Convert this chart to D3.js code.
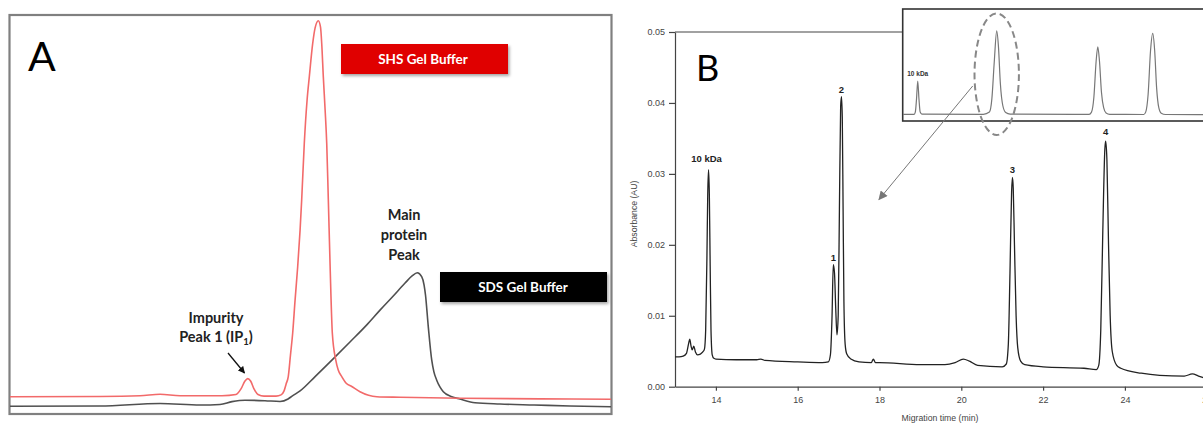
<!DOCTYPE html>
<html>
<head>
<meta charset="utf-8">
<script src="https://cdn.jsdelivr.net/npm/d3@7/dist/d3.min.js"></script>
<style>
  html, body { margin: 0; padding: 0; background: #fff; }
  svg { display: block; }
</style>
</head>
<body>
<svg id="chart" width="1203" height="426"></svg>
<script>
// ---------------- Panel A data (time in min, signal in mAU) ----------------
const shsTime = [0, 4.49, 6.49, 7.49, 8.49, 10.58, 11.28, 11.53, 11.73, 11.87, 12.01, 12.18, 12.38, 12.68, 13.28, 13.53, 13.68, 13.78, 13.89, 14.0, 14.11, 14.23, 14.36, 14.48, 14.56, 14.69, 14.83, 14.94, 15.11, 15.23, 15.39, 15.50, 15.56, 15.64, 15.73, 15.81, 15.89, 15.98, 16.09, 16.26, 16.38, 16.56, 16.77, 17.06, 17.47, 18.31, 19.47, 22.47, 26.46, 30];
const shsSignal = [4.35, 4.4, 4.57, 4.95, 4.57, 4.6, 4.9, 6.3, 8.3, 8.9, 8.3, 6.3, 4.9, 4.5, 4.5, 4.8, 5.8, 7.5, 9.4, 14.8, 20.3, 28.6, 37.0, 46.2, 53.8, 68.0, 78.9, 84.7, 93.1, 97.0, 98.8, 97.2, 93.1, 84.7, 76.4, 68.0, 53.8, 37.0, 20.3, 13.6, 11.1, 9.4, 7.8, 6.9, 5.6, 4.35, 4.2, 3.94, 3.8, 3.7];

const sdsTime = [0, 4.49, 7.49, 9.49, 10.48, 11.08, 11.73, 12.73, 13.48, 13.88, 14.08, 14.48, 15.23, 16.18, 16.97, 17.81, 18.47, 19.12, 19.72, 20.07, 20.33, 20.55, 20.67, 20.74, 20.88, 21.05, 21.16, 21.30, 21.46, 21.63, 22.05, 22.46, 23.21, 24.46, 26.16, 27.95, 30];
const sdsSignal = [1.96, 2.0, 2.64, 2.26, 2.39, 3.1, 3.47, 3.34, 3.14, 3.77, 4.5, 5.8, 9.4, 14.1, 18.1, 22.4, 26.1, 29.6, 32.9, 34.7, 35.5, 34.5, 32.4, 29.9, 21.9, 13.6, 10.6, 8.5, 6.8, 5.6, 4.35, 3.77, 2.84, 2.51, 2.26, 2.0, 1.83];

const legendA = ["SHS Gel Buffer", "SDS Gel Buffer"];
const annotMain = ["Main", "protein", "Peak"];
const annotImpurity = ["Impurity", "Peak 1 (IP", "1", ")"];

// ---------------- Panel B data (migration time in min, absorbance in AU) ----------------
const migTime = [13.00, 13.10, 13.20, 13.28, 13.33, 13.36, 13.39, 13.42, 13.46, 13.50, 13.55, 13.62, 13.68, 13.72, 13.75, 13.78, 13.80, 13.82, 13.84, 13.86, 13.88, 13.91, 13.95, 14.00, 14.50, 15.00, 15.10, 15.20, 16.00, 16.60, 16.75, 16.80, 16.84, 16.87, 16.90, 16.93, 16.96, 16.99, 17.02, 17.05, 17.07, 17.09, 17.11, 17.13, 17.16, 17.20, 17.30, 17.50, 17.80, 17.85, 17.90, 18.00, 19.00, 19.60, 19.85, 20.05, 20.20, 20.40, 21.00, 21.10, 21.15, 21.19, 21.23, 21.25, 21.27, 21.30, 21.34, 21.38, 21.45, 21.55, 22.00, 23.00, 23.30, 23.36, 23.41, 23.46, 23.51, 23.53, 23.56, 23.60, 23.64, 23.69, 23.80, 23.90, 24.40, 24.85, 25.45, 25.65, 25.80, 26.00];
const absorbance = [0.0042, 0.0042, 0.0043, 0.0047, 0.0060, 0.0067, 0.0058, 0.0052, 0.0057, 0.0049, 0.0045, 0.0046, 0.0049, 0.0053, 0.0080, 0.0180, 0.0270, 0.0306, 0.0270, 0.0170, 0.0080, 0.0045, 0.0040, 0.0039, 0.0038, 0.0038, 0.0039, 0.0037, 0.0035, 0.0034, 0.0035, 0.0045, 0.0100, 0.0172, 0.0160, 0.0110, 0.0073, 0.0100, 0.0250, 0.0395, 0.0409, 0.0380, 0.0250, 0.0120, 0.0060, 0.0046, 0.0039, 0.0035, 0.0034, 0.0039, 0.0034, 0.0034, 0.0031, 0.0031, 0.0034, 0.0039, 0.0036, 0.0030, 0.0028, 0.0032, 0.0060, 0.0160, 0.0275, 0.0295, 0.0280, 0.0200, 0.0100, 0.0055, 0.0036, 0.0031, 0.0028, 0.0026, 0.0024, 0.0030, 0.0080, 0.0220, 0.0335, 0.0346, 0.0320, 0.0200, 0.0100, 0.0050, 0.0030, 0.0026, 0.0019, 0.0016, 0.0015, 0.0018, 0.0015, 0.0011];

const insetTime = [13.00, 13.65, 13.70, 13.75, 13.80, 13.85, 13.90, 13.97, 16.50, 16.75, 16.85, 16.95, 17.05, 17.12, 17.20, 17.30, 17.42, 17.60, 20.85, 20.95, 21.05, 21.14, 21.21, 21.28, 21.36, 21.45, 21.55, 21.70, 23.10, 23.18, 23.28, 23.38, 23.47, 23.55, 23.63, 23.72, 23.82, 24.00, 26.30];
const insetAbs = [0.0010, 0.0010, 0.0020, 0.0080, 0.0161, 0.0080, 0.0020, 0.0011, 0.0010, 0.0020, 0.0080, 0.0250, 0.0389, 0.0320, 0.0150, 0.0050, 0.0018, 0.0011, 0.0010, 0.0020, 0.0090, 0.0250, 0.0317, 0.0250, 0.0110, 0.0040, 0.0016, 0.0010, 0.0009, 0.0020, 0.0100, 0.0300, 0.0378, 0.0300, 0.0130, 0.0040, 0.0015, 0.0009, 0.0008];

const xTicksB = [14, 16, 18, 20, 22, 24, 26];
const yTicksB = [0.00, 0.01, 0.02, 0.03, 0.04, 0.05];
const peakLabels = ["10 kDa", "1", "2", "3", "4"];
const peakLabelTimes = [13.82, 16.87, 17.07, 21.25, 23.53];
const peakLabelValues = [0.0306, 0.0172, 0.0409, 0.0295, 0.0346];

// ---------------- drawing ----------------
const svg = d3.select("#chart");
const defs = svg.append("defs");
const shadow = defs.append("filter").attr("id", "shadow").attr("x", "-10%").attr("y", "-20%").attr("width", "130%").attr("height", "160%");
shadow.append("feDropShadow").attr("dx", 1.5).attr("dy", 2).attr("stdDeviation", 1.5).attr("flood-color", "#000").attr("flood-opacity", 0.35);

// ===== Panel A =====
const xA = d3.scaleLinear().domain([0, 30]).range([10, 611]);
const yA = d3.scaleLinear().domain([0, 100]).range([414, 16]);
const gA = svg.append("g");

gA.append("rect").attr("x", 9.5).attr("y", 15).attr("width", 602).attr("height", 399)
  .attr("fill", "none").attr("stroke", "#808080").attr("stroke-width", 2.2);

const lineA = d3.line().x(d => xA(d[0])).y(d => yA(d[1])).curve(d3.curveMonotoneX);
gA.append("path").datum(d3.zip(sdsTime, sdsSignal)).attr("d", lineA)
  .attr("fill", "none").attr("stroke", "#505050").attr("stroke-width", 1.6);
gA.append("path").datum(d3.zip(shsTime, shsSignal)).attr("d", lineA)
  .attr("fill", "none").attr("stroke", "#f26a6a").attr("stroke-width", 1.6);

gA.append("text").attr("x", 28).attr("y", 71).text("A")
  .attr("font-family", "Lato, 'Open Sans', sans-serif").attr("font-size", 41).attr("fill", "#000");

// legend boxes
const boxFont = "Lato, 'Open Sans', sans-serif";
gA.append("rect").attr("x", 341).attr("y", 44).attr("width", 167).attr("height", 30)
  .attr("fill", "#e00000").attr("filter", "url(#shadow)");
gA.append("text").attr("x", 423).attr("y", 64).attr("text-anchor", "middle").text(legendA[0])
  .attr("font-family", boxFont).attr("font-weight", 700).attr("font-size", 13.5).attr("fill", "#fff");
gA.append("rect").attr("x", 440).attr("y", 272).attr("width", 167).attr("height", 30)
  .attr("fill", "#000").attr("filter", "url(#shadow)");
gA.append("text").attr("x", 523).attr("y", 292).attr("text-anchor", "middle").text(legendA[1])
  .attr("font-family", boxFont).attr("font-weight", 700).attr("font-size", 13.5).attr("fill", "#fff");

// annotations
const annFont = { "font-family": boxFont, "font-weight": 700, "font-size": 14.5, "fill": "#222" };
annotMain.forEach((t, i) => {
  const tx = gA.append("text").attr("x", 404).attr("y", 220 + i * 19.8).attr("text-anchor", "middle").text(t);
  Object.entries(annFont).forEach(([k, v]) => tx.attr(k, v));
});
const imp1 = gA.append("text").attr("x", 216).attr("y", 323).attr("text-anchor", "middle").text(annotImpurity[0]);
Object.entries(annFont).forEach(([k, v]) => imp1.attr(k, v));
const imp2 = gA.append("text").attr("x", 216).attr("y", 342).attr("text-anchor", "middle");
Object.entries(annFont).forEach(([k, v]) => imp2.attr(k, v));
imp2.append("tspan").text(annotImpurity[1]);
imp2.append("tspan").attr("dy", 3).attr("font-size", 9.5).text(annotImpurity[2]);
imp2.append("tspan").attr("dy", -3).text(annotImpurity[3]);

defs.append("marker").attr("id", "arrA").attr("viewBox", "0 0 10 10").attr("refX", 9).attr("refY", 5)
  .attr("markerWidth", 7).attr("markerHeight", 7).attr("orient", "auto-start-reverse")
  .attr("markerUnits", "userSpaceOnUse")
  .append("path").attr("d", "M0,0 L10,5 L0,10 z").attr("fill", "#111");
gA.append("line").attr("x1", 228).attr("y1", 353).attr("x2", 244.5).attr("y2", 373)
  .attr("stroke", "#111").attr("stroke-width", 1.3).attr("marker-end", "url(#arrA)");

// ===== Panel B =====
const xB = d3.scaleLinear().domain([13, 26]).range([675, 1206.7]);
const yB = d3.scaleLinear().domain([0, 0.05]).range([386.7, 32]);
const gB = svg.append("g");
const axisFont = "'Liberation Sans', Arial, sans-serif";

defs.append("clipPath").attr("id", "clipB").append("rect")
  .attr("x", 675).attr("y", 20).attr("width", 540).attr("height", 367);

gB.append("line").attr("x1", 675).attr("x2", 1207).attr("y1", 32).attr("y2", 32)
  .attr("stroke", "#444").attr("stroke-width", 1.2);

const yAxis = d3.axisLeft(yB).tickValues(yTicksB).tickFormat(d3.format(".2f")).tickSize(6).tickSizeOuter(0).tickPadding(4);
const gy = gB.append("g").attr("transform", "translate(675,0)").call(yAxis);
const xAxis = d3.axisBottom(xB).tickValues(xTicksB).tickSize(4).tickSizeOuter(0).tickPadding(6);
const gx = gB.append("g").attr("transform", "translate(0,386.7)").call(xAxis);
[gy, gx].forEach(g => {
  g.selectAll("path,line").attr("stroke", "#444").attr("stroke-width", 1.2);
  g.selectAll("text").attr("font-family", axisFont).attr("font-size", 9).attr("fill", "#444");
});

gB.append("text").attr("transform", "translate(637,214) rotate(-90)").attr("text-anchor", "middle")
  .text("Absorbance (AU)").attr("font-family", axisFont).attr("font-size", 8.7).attr("fill", "#444");
gB.append("text").attr("x", 940).attr("y", 421).attr("text-anchor", "middle")
  .text("Migration time (min)").attr("font-family", axisFont).attr("font-size", 8.7).attr("fill", "#444");

const lineB = d3.line().x(d => xB(d[0])).y(d => yB(d[1])).curve(d3.curveMonotoneX);
gB.append("path").datum(d3.zip(migTime, absorbance)).attr("d", lineB).attr("clip-path", "url(#clipB)")
  .attr("fill", "none").attr("stroke", "#222").attr("stroke-width", 1.3);

const labelGap = [7.5, 4, 4, 4, 6.5];
peakLabels.forEach((t, i) => {
  gB.append("text").attr("x", xB(peakLabelTimes[i]) + (i === 0 ? -2 : 0)).attr("y", yB(peakLabelValues[i]) - labelGap[i])
    .attr("text-anchor", "middle").text(t)
    .attr("font-family", axisFont).attr("font-weight", 700).attr("font-size", 9.5).attr("fill", "#222");
});

gB.append("text").attr("x", 696).attr("y", 81).text("B")
  .attr("font-family", "Lato, 'Open Sans', sans-serif").attr("font-size", 36).attr("fill", "#000");

// inset
const xIn = d3.scaleLinear().domain([13, 26.3]).range([898.3, 1221.5]);
const yIn = d3.scaleLinear().domain([0, 0.04]).range([116.5, 28.5]);
defs.append("clipPath").attr("id", "clipIn").append("rect")
  .attr("x", 903).attr("y", 9).attr("width", 320).attr("height", 112);
gB.append("rect").attr("x", 902.7).attr("y", 9).attr("width", 330).attr("height", 112)
  .attr("fill", "#fff").attr("stroke", "#333").attr("stroke-width", 1.6);
gB.append("path").datum(d3.zip(insetTime, insetAbs)).attr("d", lineB.x(d => xIn(d[0])).y(d => yIn(d[1])))
  .attr("clip-path", "url(#clipIn)").attr("fill", "none").attr("stroke", "#777").attr("stroke-width", 1.2);
gB.append("text").attr("x", xIn(13.8)).attr("y", 76).attr("text-anchor", "middle").text(peakLabels[0])
  .attr("font-family", axisFont).attr("font-weight", 700).attr("font-size", 6.5).attr("fill", "#333");

gB.append("ellipse").attr("cx", xIn(17.05)).attr("cy", 74.2).attr("rx", 22.2).attr("ry", 60.8)
  .attr("fill", "none").attr("stroke", "#888").attr("stroke-width", 2).attr("stroke-dasharray", "7,4");

defs.append("marker").attr("id", "arrB").attr("viewBox", "0 0 10 10").attr("refX", 9).attr("refY", 5)
  .attr("markerWidth", 10).attr("markerHeight", 9).attr("orient", "auto")
  .attr("markerUnits", "userSpaceOnUse")
  .append("path").attr("d", "M0,0 L10,5 L0,10 z").attr("fill", "#777");
gB.append("line").attr("x1", 972.7).attr("y1", 86).attr("x2", 879).attr("y2", 199.5)
  .attr("stroke", "#777").attr("stroke-width", 1).attr("marker-end", "url(#arrB)");
</script>
</body>
</html>
